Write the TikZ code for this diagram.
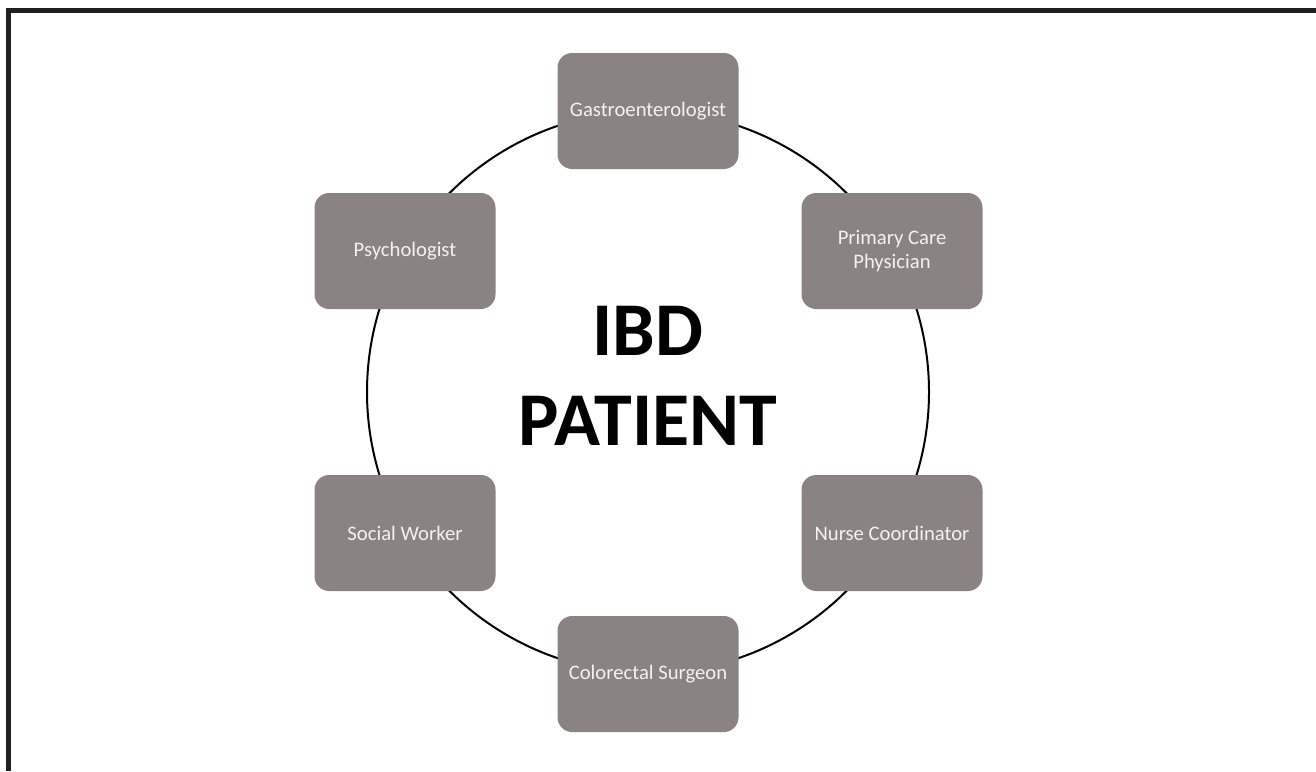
\documentclass[tikz,border=0pt]{standalone}
\usepackage{fontspec}
\setmainfont{Carlito}
\usetikzlibrary{positioning}
\definecolor{boxgray}{RGB}{138,131,130}
\definecolor{framegray}{RGB}{35,31,32}
\definecolor{boxtext}{RGB}{242,242,242}
\tikzset{
  member/.style={rectangle, rounded corners=11pt, fill=boxgray, text=boxtext,
    minimum width=135.75pt, minimum height=87pt, align=center,
    font=\fontsize{15.5}{18.5}\selectfont},
  ring/.style={line width=1.5pt, black}
}
\begin{document}
\begin{tikzpicture}[x=0.75pt, y=-0.75pt, >=latex]
	%\draw [help lines] (0,0) grid (1316,771);
	\useasboundingbox (0,0) rectangle (1316,771);
	\draw[line width=3.75pt, framegray] (8.5,771) -- (8.5,10.5) -- (1316,10.5);
	\coordinate (c) at (648,392);
	\draw[ring] (c) circle[radius=281];
	\node[font=\bfseries\fontsize{57}{67.5}\selectfont, align=center] (patient) at (648,376) {IBD\\PATIENT};
	\node[member] (gastro) at (648,111) {Gastroenterologist};
	\node[member] (pcp) at (892,251) {Primary Care\\Physician};
	\node[member] (nurse) at (892,533) {Nurse Coordinator};
	\node[member] (surgeon) at (648,674) {Colorectal Surgeon};
	\node[member] (social) at (405,533) {Social Worker};
	\node[member] (psych) at (405,251) {Psychologist};
\end{tikzpicture}
\end{document}
